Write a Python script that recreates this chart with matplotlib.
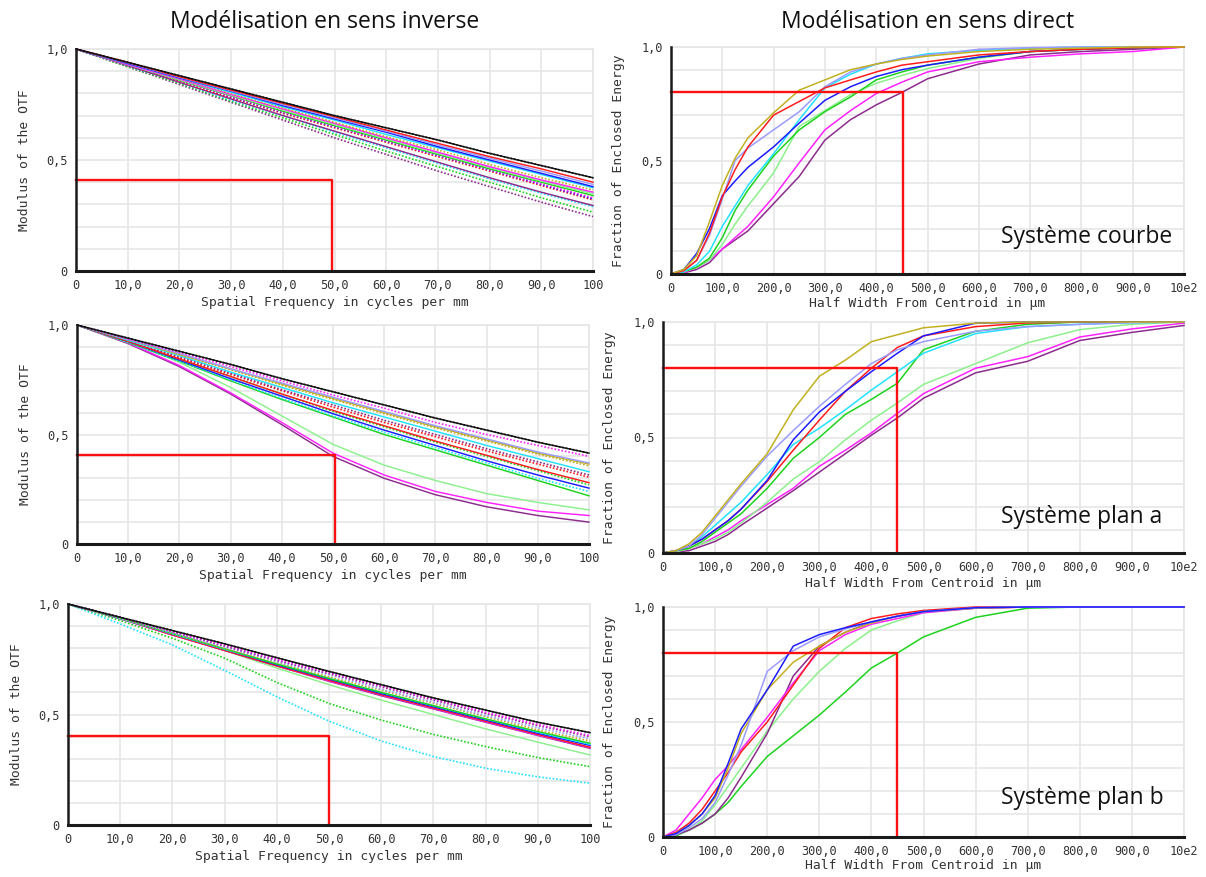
import matplotlib
matplotlib.use("Agg")
import matplotlib.pyplot as plt
from matplotlib.ticker import MultipleLocator, FixedLocator

# ---------------- DATA ----------------
FREQ = [0, 10, 20, 30, 40, 50, 60, 70, 80, 90, 100]

# Panel: Système courbe, inverse (MTF)
courbe_black = [1, .94, .88, .82, .76, .70, .645, .59, .53, .475, .42]
courbe_red_t = [1, .94, .875, .815, .755, .695, .635, .575, .515, .46, .40]
courbe_peri_t = [1, .938, .873, .812, .75, .69, .63, .568, .508, .45, .39]
courbe_blue_t = [1, .935, .87, .81, .745, .685, .625, .56, .50, .44, .38]
courbe_cyan_t = [1, .935, .87, .805, .74, .68, .615, .555, .495, .435, .375]
courbe_olive_s = [1, .935, .87, .80, .735, .67, .605, .545, .48, .42, .365]
courbe_magenta_t = [1, .93, .865, .795, .73, .665, .60, .535, .47, .41, .355]
courbe_lgreen_t = [1, .93, .862, .792, .725, .66, .595, .53, .466, .405, .348]
courbe_green_t = [1, .93, .86, .79, .72, .655, .59, .525, .46, .40, .34]
courbe_magenta_s = [1, .93, .86, .787, .717, .652, .587, .522, .457, .393, .33]
courbe_blue_s = [1, .93, .86, .785, .715, .65, .585, .52, .455, .39, .325]
courbe_red_s = [1, .93, .855, .78, .71, .645, .58, .515, .45, .385, .32]
courbe_purple_t = [1, .925, .85, .775, .70, .63, .56, .49, .42, .355, .295]
courbe_cyan_s = [1, .925, .85, .77, .70, .625, .555, .485, .415, .35, .29]
courbe_green_s = [1, .92, .845, .765, .69, .615, .54, .47, .40, .33, .265]
courbe_purple_s = [1, .92, .84, .76, .68, .60, .525, .45, .38, .31, .245]

# Panel: Système plan a, inverse (MTF)
plana_black = [1, .94, .88, .82, .755, .695, .635, .575, .52, .465, .415]
plana_magenta_s = [1, .935, .875, .81, .745, .68, .62, .555, .50, .45, .40]
plana_peri_t = [1, .935, .87, .80, .735, .67, .605, .54, .48, .42, .37]
plana_olive_t = [1, .935, .865, .80, .73, .665, .60, .535, .475, .415, .365]
plana_olive_s = [1, .935, .865, .795, .725, .66, .595, .53, .47, .41, .357]
plana_cyan_t = [1, .93, .86, .785, .715, .645, .58, .515, .45, .39, .33]
plana_purple_s = [1, .93, .855, .78, .705, .635, .565, .50, .435, .375, .315]
plana_red_s = [1, .93, .85, .775, .70, .625, .555, .49, .425, .365, .305]
plana_red_t = [1, .925, .845, .765, .685, .61, .54, .47, .405, .34, .28]
plana_green_s = [1, .925, .845, .765, .685, .605, .535, .465, .40, .335, .27]
plana_blue_t = [1, .925, .84, .755, .675, .595, .52, .45, .38, .315, .255]
plana_cyan_s = [1, .92, .835, .75, .665, .585, .51, .44, .37, .30, .24]
plana_green_t = [1, .92, .835, .745, .66, .58, .50, .43, .36, .29, .22]
plana_lgreen_t = [1, .925, .83, .715, .585, .455, .36, .29, .23, .19, .156]
plana_magenta_t = [1, .918, .815, .69, .555, .415, .315, .24, .19, .15, .13]
plana_purple_t = [1, .915, .81, .685, .545, .40, .30, .225, .17, .13, .10]

# Panel: Système plan b, inverse (MTF)
planb_black = [1, .94, .88, .82, .757, .695, .635, .575, .52, .465, .418]
planb_magenta_s = [1, .94, .875, .815, .75, .69, .63, .57, .51, .455, .405]
planb_purple_s = [1, .94, .875, .81, .745, .685, .625, .565, .505, .45, .40]
planb_peri_s = [1, .935, .87, .805, .74, .68, .615, .555, .495, .44, .39]
planb_olive_s = [1, .935, .87, .80, .735, .67, .61, .55, .49, .43, .38]
planb_green_t = [1, .935, .867, .797, .728, .663, .6, .54, .48, .423, .37]
planb_cyan_t = [1, .935, .865, .795, .73, .665, .60, .54, .48, .42, .365]
planb_blue_t = [1, .935, .865, .795, .725, .66, .595, .535, .475, .415, .36]
planb_red_t = [1, .935, .86, .79, .72, .655, .59, .53, .47, .41, .352]
planb_magenta_t = [1, .934, .86, .79, .72, .652, .588, .527, .467, .407, .35]
planb_purple_t = [1, .933, .86, .79, .72, .65, .585, .525, .465, .405, .347]
planb_lgreen_t = [1, .935, .865, .79, .71, .635, .565, .50, .435, .375, .317]
planb_green_s = [1, .925, .845, .755, .645, .55, .475, .41, .355, .305, .264]
planb_cyan_s = [1, .91, .815, .70, .58, .47, .38, .31, .257, .218, .189]

# Enclosed energy (direct)
RADIUS = [0, 25, 50, 75, 100, 125, 150, 200, 250, 300, 350, 400, 450, 500, 600, 700, 800, 900, 1000]

ec_olive = [0, .02, .08, .23, .39, .51, .60, .71, .81, .855, .90, .925, .945, .96, .98, .99, .995, 1, 1]
ec_red = [0, .015, .06, .18, .34, .46, .56, .70, .76, .82, .855, .89, .92, .935, .965, .98, .99, .997, 1]
ec_peri = [0, .015, .06, .17, .33, .50, .555, .635, .715, .825, .89, .925, .95, .965, .99, .997, 1, 1, 1]
ec_blue = [0, .02, .09, .20, .345, .41, .47, .56, .665, .765, .825, .87, .90, .92, .955, .98, .99, .997, 1]
ec_cyan = [0, .01, .04, .10, .21, .30, .39, .53, .68, .82, .88, .925, .95, .97, .985, .995, 1, 1, 1]
ec_green = [0, .01, .03, .07, .16, .28, .37, .52, .635, .715, .78, .855, .89, .92, .955, .98, .99, .997, 1]
ec_lgreen = [0, .01, .03, .06, .13, .22, .30, .445, .65, .72, .79, .84, .875, .905, .95, .98, .99, .997, 1]
ec_magenta = [0, .005, .03, .06, .11, .16, .21, .34, .49, .635, .72, .795, .845, .89, .935, .955, .97, .98, 1]
ec_purple = [0, .005, .02, .05, .11, .15, .19, .31, .43, .59, .68, .745, .80, .86, .925, .965, .98, .99, 1]

ea_olive = [0, .01, .04, .09, .16, .23, .30, .43, .62, .765, .835, .915, .945, .975, .995, 1, 1, 1, 1]
ea_peri = [0, .01, .03, .08, .15, .22, .29, .42, .53, .635, .73, .82, .88, .915, .96, .98, .99, .997, 1]
ea_blue = [0, .01, .03, .06, .10, .14, .19, .315, .49, .61, .70, .785, .865, .94, .995, 1, 1, 1, 1]
ea_red = [0, .01, .03, .06, .10, .14, .19, .31, .445, .575, .70, .80, .89, .94, .98, .996, 1, 1, 1]
ea_cyan = [0, .01, .03, .07, .12, .17, .22, .34, .47, .54, .62, .705, .785, .865, .95, .98, .99, .997, 1]
ea_green = [0, .01, .02, .05, .09, .13, .17, .28, .41, .50, .60, .665, .735, .88, .96, .99, 1, 1, 1]
ea_lgreen = [0, .005, .02, .04, .06, .09, .13, .22, .32, .395, .49, .575, .65, .73, .82, .91, .967, .99, 1]
ea_magenta = [0, .005, .02, .04, .07, .10, .14, .21, .28, .375, .445, .52, .605, .69, .80, .85, .935, .97, .995]
ea_purple = [0, .005, .01, .03, .05, .08, .12, .195, .27, .35, .43, .51, .585, .67, .78, .83, .92, .955, .985]

eb_blue = [0, .015, .05, .10, .18, .32, .47, .64, .83, .88, .91, .935, .96, .98, .997, 1, 1, 1, 1]
eb_peri = [0, .01, .04, .08, .15, .27, .40, .72, .81, .87, .905, .935, .96, .98, .997, 1, 1, 1, 1]
eb_olive = [0, .015, .05, .10, .17, .30, .45, .64, .76, .83, .89, .93, .96, .98, .995, 1, 1, 1, 1]
eb_red = [0, .02, .06, .12, .20, .28, .37, .50, .66, .82, .91, .95, .97, .985, 1, 1, 1, 1, 1]
eb_magenta = [0, .03, .10, .17, .25, .31, .38, .52, .67, .81, .88, .925, .95, .975, .995, 1, 1, 1, 1]
eb_purple = [0, .01, .03, .06, .10, .17, .26, .45, .70, .83, .89, .935, .96, .98, .995, 1, 1, 1, 1]
eb_lgreen = [0, .01, .03, .07, .14, .22, .30, .46, .60, .72, .82, .90, .94, .975, .995, 1, 1, 1, 1]
eb_green = [0, .005, .03, .06, .10, .15, .22, .35, .44, .53, .63, .735, .80, .87, .955, .995, 1, 1, 1]

# red target markers (x, y)
TARGET_MTF = [(49.5, 0.41), (50.3, 0.406), (50.0, 0.403)]
TARGET_EE = [(452, 0.80), (450, 0.80), (450, 0.80)]

TITLES = ["Modélisation en sens inverse", "Modélisation en sens direct"]
SYSTEMS = ["Système courbe", "Système plan a", "Système plan b"]
MTF_XT = ["0", "10,0", "20,0", "30,0", "40,0", "50,0", "60,0", "70,0", "80,0", "90,0", "100"]
EE_XT = ["0", "100,0", "200,0", "300,0", "400,0", "500,0", "600,0", "700,0", "800,0", "900,0", "10e2"]
Y_TL = ["0", "0,5", "1,0"]

# ---------------- STYLE ----------------
C = dict(blue='#1c1cff', green='#1ed21e', red='#ff1c1c', olive='#c2b020', magenta='#ff22ff',
         cyan='#22e2ff', purple='#8c2c8c', peri='#9a9cff', lgreen='#8cf08c', black='#111111')
SOLID = '-'
DOT = (0, (1, 1.1))

W, H = 1206, 877
fig = plt.figure(figsize=(W / 100, H / 100), dpi=100)
fig.patch.set_facecolor('white')

def box(l, r, t, b):
    return [l / W, 1 - b / H, (r - l) / W, (b - t) / H]

MONO = 'DejaVu Sans Mono'
TXT = '#333333'
GRID = '#e6e6e6'

def style_ax(ax, xmax, xstep, xlabels, xlabel, ylabel, pos, ylabx, xlaby):
    l, r, t, b = pos
    ax.set_xlim(0, xmax)
    ax.set_ylim(0, 1.0)
    ax.xaxis.set_major_locator(FixedLocator([i * xstep for i in range(11)]))
    ax.set_xticklabels(xlabels)
    ax.yaxis.set_major_locator(FixedLocator([0, 0.5, 1.0]))
    ax.set_yticklabels(Y_TL)
    ax.yaxis.set_minor_locator(MultipleLocator(0.1))
    ax.grid(True, which='both', color=GRID, lw=1.2, zorder=0)
    ax.tick_params(which='both', length=0, labelsize=8.6, colors=TXT, pad=6)
    for lab in ax.get_xticklabels() + ax.get_yticklabels():
        lab.set_fontfamily(MONO)
    for s in ('top', 'right'):
        ax.spines[s].set_color(GRID)
        ax.spines[s].set_linewidth(1.2)
    ax.spines['left'].set_color('#1a1a1a')
    ax.spines['left'].set_linewidth(1.8)
    ax.spines['bottom'].set_color('#1a1a1a')
    ax.spines['bottom'].set_linewidth(2.2)
    for s in ('left', 'bottom'):
        ax.spines[s].set_zorder(5)
    ax.set_xlabel(xlabel, fontfamily=MONO, fontsize=9.4, color=TXT)
    ax.set_ylabel(ylabel, fontfamily=MONO, fontsize=9.4, color=TXT)
    ax.xaxis.set_label_coords(0.5, -(xlaby - b) / (b - t))
    ax.yaxis.set_label_coords((ylabx - l) / (r - l), 0.5)
    ax.set_axisbelow(True)

def curve(ax, x, y, col, ls, lw=1.1):
    ax.plot(x, y, color=C[col], ls=ls, lw=lw, zorder=3, clip_on=False, solid_joinstyle='round')

# positions in pixels: (left, right, top, bottom)
POS_L = [(76, 593, 49, 271), (77, 589, 325, 544), (68, 590, 604, 825)]
POS_R = [(671, 1184, 47, 274), (663, 1184, 322, 553), (663, 1184, 607, 837)]
YLAB_L = [31, 32, 23]
YLAB_R = [625, 616, 616]
XLAB_L = [296, 569, 850]
XLAB_R = [297, 577, 859]

mtf_sets = [
    [(courbe_purple_s, 'purple', DOT), (courbe_green_s, 'green', DOT), (courbe_cyan_s, 'cyan', DOT),
     (courbe_purple_t, 'purple', SOLID), (courbe_red_s, 'red', DOT), (courbe_blue_s, 'blue', DOT),
     (courbe_magenta_s, 'magenta', DOT), (courbe_green_t, 'green', SOLID), (courbe_lgreen_t, 'lgreen', SOLID),
     (courbe_magenta_t, 'magenta', SOLID), (courbe_olive_s, 'olive', DOT), (courbe_cyan_t, 'cyan', SOLID),
     (courbe_blue_t, 'blue', SOLID), (courbe_peri_t, 'peri', SOLID), (courbe_red_t, 'red', SOLID),
     (courbe_black, 'black', SOLID), (courbe_black, 'black', DOT)],
    [(plana_purple_t, 'purple', SOLID), (plana_magenta_t, 'magenta', SOLID), (plana_lgreen_t, 'lgreen', SOLID),
     (plana_green_t, 'green', SOLID), (plana_cyan_s, 'cyan', DOT), (plana_blue_t, 'blue', SOLID),
     (plana_green_s, 'green', DOT), (plana_red_t, 'red', SOLID), (plana_red_s, 'red', DOT),
     (plana_purple_s, 'purple', DOT), (plana_cyan_t, 'cyan', SOLID), (plana_olive_s, 'olive', DOT),
     (plana_olive_t, 'olive', SOLID), (plana_peri_t, 'peri', SOLID), (plana_magenta_s, 'magenta', DOT),
     (plana_black, 'black', SOLID), (plana_black, 'black', DOT)],
    [(planb_cyan_s, 'cyan', DOT), (planb_green_s, 'green', DOT), (planb_lgreen_t, 'lgreen', SOLID),
     (planb_purple_t, 'purple', SOLID), (planb_magenta_t, 'magenta', SOLID), (planb_red_t, 'red', SOLID),
     (planb_blue_t, 'blue', SOLID), (planb_cyan_t, 'cyan', SOLID), (planb_green_t, 'green', SOLID),
     (planb_olive_s, 'olive', DOT), (planb_peri_s, 'peri', DOT), (planb_purple_s, 'purple', DOT),
     (planb_magenta_s, 'magenta', DOT), (planb_black, 'black', SOLID), (planb_black, 'black', DOT)],
]

ee_sets = [
    [(ec_purple, 'purple'), (ec_magenta, 'magenta'), (ec_lgreen, 'lgreen'), (ec_green, 'green'),
     (ec_cyan, 'cyan'), (ec_blue, 'blue'), (ec_peri, 'peri'), (ec_red, 'red'), (ec_olive, 'olive')],
    [(ea_purple, 'purple'), (ea_magenta, 'magenta'), (ea_lgreen, 'lgreen'), (ea_green, 'green'),
     (ea_cyan, 'cyan'), (ea_red, 'red'), (ea_blue, 'blue'), (ea_peri, 'peri'), (ea_olive, 'olive')],
    [(eb_green, 'green'), (eb_lgreen, 'lgreen'), (eb_purple, 'purple'), (eb_magenta, 'magenta'),
     (eb_red, 'red'), (eb_olive, 'olive'), (eb_peri, 'peri'), (eb_blue, 'blue')],
]

for i in range(3):
    # left: MTF
    ax = fig.add_axes(box(*POS_L[i]))
    style_ax(ax, 100, 10, MTF_XT, "Spatial Frequency in cycles per mm", "Modulus of the OTF",
             POS_L[i], YLAB_L[i], XLAB_L[i])
    for vals, col, ls in mtf_sets[i]:
        curve(ax, FREQ, vals, col, ls, lw=1.2 if ls == DOT else 1.05)
    tx, ty = TARGET_MTF[i]
    ax.plot([0, tx, tx], [ty, ty, 0], color='#ff1010', lw=1.7, zorder=4, clip_on=False)

    # right: enclosed energy
    ax2 = fig.add_axes(box(*POS_R[i]))
    style_ax(ax2, 1000, 100, EE_XT, "Half Width From Centroid in µm", "Fraction of Enclosed Energy",
             POS_R[i], YLAB_R[i], XLAB_R[i])
    for vals, col in ee_sets[i]:
        curve(ax2, RADIUS, vals, col, SOLID, lw=1.1)
    tx, ty = TARGET_EE[i]
    ax2.plot([0, tx, tx], [ty, ty, 0], color='#ff1010', lw=1.7, zorder=4, clip_on=False)

# titles and system labels
TFONT = 'Open Sans'
fig.text(325 / W, 1 - 22 / H, TITLES[0], ha='center', va='center', fontsize=16.5, family=TFONT, color='#111111')
fig.text(928 / W, 1 - 22 / H, TITLES[1], ha='center', va='center', fontsize=16.5, family=TFONT, color='#111111')
SYS_Y = [237, 517, 798]
for name, y in zip(SYSTEMS, SYS_Y):
    fig.text(1001 / W, 1 - y / H, name, ha='left', va='center', fontsize=16.5, family=TFONT, color='#111111')

fig.savefig("out.png", dpi=100, facecolor='white')
